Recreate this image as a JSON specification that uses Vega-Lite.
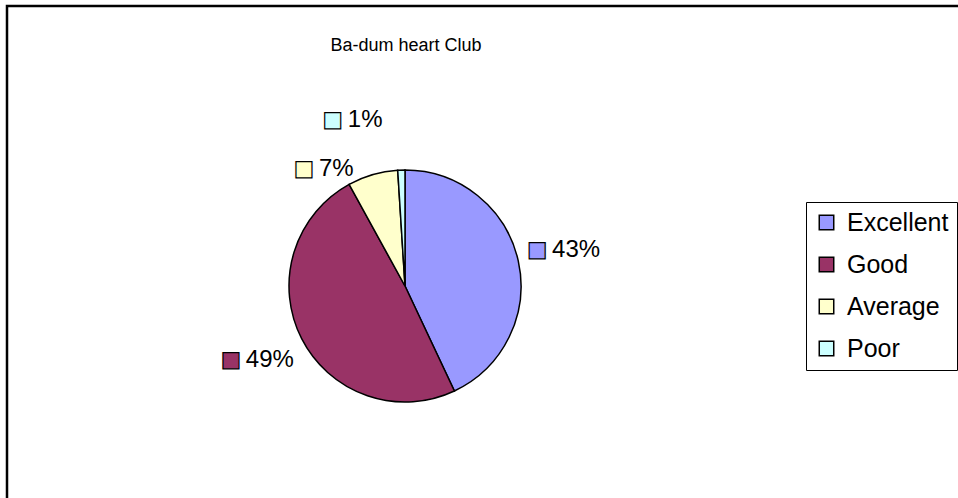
{
  "$schema": "https://vega.github.io/schema/vega-lite/v6.json",
  "autosize": "none",
  "width": 1000,
  "height": 540,
  "padding": {"left": 7, "top": 6, "right": -49, "bottom": -48},
  "background": "white",
  "title": {
    "text": "Ba-dum heart Club",
    "font": "Liberation Sans",
    "fontSize": 18,
    "fontWeight": "normal",
    "color": "black",
    "anchor": "middle",
    "frame": "group",
    "orient": "top",
    "baseline": "middle",
    "offset": -59,
    "dx": -101
  },
  "data": {
    "values": [
      {"category": "Excellent", "pct": 0.43, "rank": 1},
      {"category": "Good", "pct": 0.49, "rank": 2},
      {"category": "Average", "pct": 0.07, "rank": 3},
      {"category": "Poor", "pct": 0.01, "rank": 4}
    ]
  },
  "layer": [
    {
      "data": {"values": [{"frame": "chart"}]},
      "mark": {"type": "rect", "fill": "transparent", "stroke": "black", "strokeWidth": 2.5},
      "encoding": {}
    },
    {
      "mark": {"type": "arc", "x": 398, "y": 280, "outerRadius": 116, "stroke": "black", "strokeWidth": 1.5},
      "encoding": {
        "theta": {"field": "pct", "type": "quantitative", "stack": true},
        "order": {"field": "rank", "type": "quantitative"},
        "color": {
          "field": "category",
          "type": "nominal",
          "scale": {"domain": ["Excellent", "Good", "Average", "Poor"], "range": ["#9999FF", "#993366", "#FFFFCC", "#CCFFFF"]},
          "legend": {
            "orient": "none",
            "legendX": 799,
            "legendY": 196,
            "title": null,
            "strokeColor": "black",
            "padding": 8,
            "symbolType": "square",
            "symbolSize": 210,
            "symbolStrokeColor": "black",
            "symbolStrokeWidth": 1.5,
            "labelFont": "Liberation Sans",
            "labelFontSize": 25,
            "labelColor": "black",
            "labelOffset": 8,
            "labelLimit": 500,
            "rowPadding": 16
          }
        }
      }
    },
    {
      "mark": {"type": "text", "x": 398, "y": 280, "text": "■", "font": "DejaVu Sans", "fontSize": 21, "align": "center", "baseline": "middle", "stroke": "black", "strokeWidth": 1.2,
        "dx": {"expr": "datum.pct < 0.1 ? -67 : -28"},
        "radius": {"expr": "datum.pct < 0.02 ? 166 : (datum.pct < 0.1 ? 122 : 164)"}},
      "encoding": {
        "theta": {"field": "pct", "type": "quantitative", "stack": true},
        "order": {"field": "rank", "type": "quantitative"},
        "color": {"field": "category", "type": "nominal", "legend": null}
      }
    },
    {
      "mark": {"type": "text", "x": 398, "y": 280, "font": "Liberation Sans", "fontSize": 24, "align": "left", "baseline": "middle", "color": "black",
        "dx": {"expr": "datum.pct < 0.1 ? -52 : -13"},
        "radius": {"expr": "datum.pct < 0.02 ? 166 : (datum.pct < 0.1 ? 122 : 164)"}},
      "encoding": {
        "theta": {"field": "pct", "type": "quantitative", "stack": true},
        "order": {"field": "rank", "type": "quantitative"},
        "text": {"field": "pct", "type": "quantitative", "format": ".0%"}
      }
    }
  ],
  "config": {
    "view": {"stroke": null}
  }
}
